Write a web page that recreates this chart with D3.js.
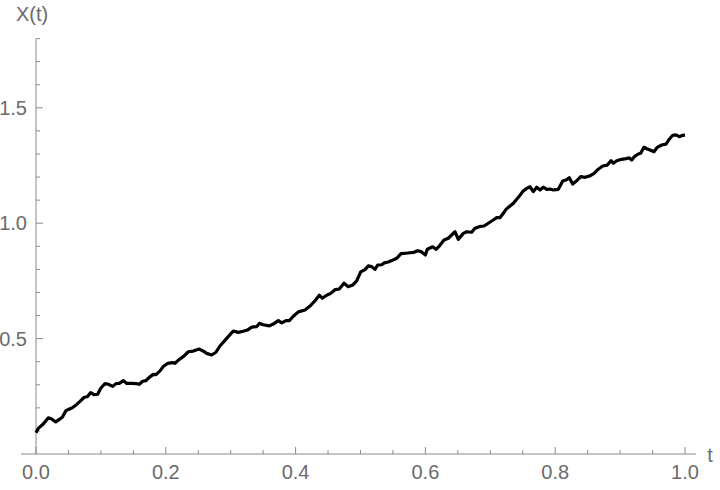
<!DOCTYPE html>
<html>
<head>
<meta charset="utf-8">
<script src="https://cdn.jsdelivr.net/npm/d3@7"></script>
<style>
  html, body { margin: 0; padding: 0; background: #fff; }
  svg text { font-family: 'Liberation Sans', Arial, sans-serif; fill: #6b6b6b; }
</style>
</head>
<body>
<div id="graph"></div>
<script>
// sample path
var tValues = [
  0, 0.0035, 0.0112, 0.019, 0.0242, 0.0304, 0.037, 0.0405, 0.0462, 0.0524,
  0.0565, 0.0627, 0.0678, 0.0744, 0.079, 0.0843, 0.0894, 0.0951, 0.0997, 0.1063,
  0.1114, 0.1182, 0.1233, 0.1284, 0.1345, 0.1398, 0.1475, 0.1541, 0.1592, 0.1644,
  0.1695, 0.1746, 0.1807, 0.1849, 0.1911, 0.1961, 0.2031, 0.21, 0.2142, 0.2208,
  0.227, 0.2347, 0.2424, 0.2512, 0.2578, 0.263, 0.2707, 0.2773, 0.2835, 0.2938,
  0.304, 0.3117, 0.3194, 0.3256, 0.3324, 0.3401, 0.3441, 0.3502, 0.3595, 0.3656,
  0.3733, 0.3786, 0.3852, 0.3903, 0.3965, 0.4042, 0.4145, 0.4222, 0.4299, 0.4365,
  0.4411, 0.4479, 0.4541, 0.4607, 0.4673, 0.4746, 0.4812, 0.488, 0.4941, 0.5003,
  0.5069, 0.512, 0.5173, 0.5223, 0.5265, 0.5327, 0.5367, 0.5428, 0.5481, 0.5558,
  0.5624, 0.5701, 0.5763, 0.5824, 0.5881, 0.5932, 0.6, 0.6029, 0.6112, 0.6163,
  0.6214, 0.6287, 0.6353, 0.6405, 0.6456, 0.6507, 0.6584, 0.6636, 0.6713, 0.6764,
  0.6831, 0.6903, 0.6969, 0.7046, 0.7099, 0.7149, 0.72, 0.7242, 0.7304, 0.7354,
  0.7407, 0.7458, 0.7508, 0.7561, 0.7612, 0.7663, 0.7715, 0.7766, 0.7817, 0.7869,
  0.792, 0.7971, 0.8048, 0.8116, 0.8166, 0.8217, 0.8269, 0.8331, 0.8393, 0.8459,
  0.8536, 0.8598, 0.8664, 0.8732, 0.8803, 0.886, 0.8895, 0.8948, 0.9025, 0.9091,
  0.9142, 0.9179, 0.923, 0.928, 0.9317, 0.9368, 0.941, 0.9461, 0.9522, 0.9573,
  0.9641, 0.9707, 0.9758, 0.9811, 0.9861, 0.9912, 0.9965, 1.0
]
var xValues = [
  0.092, 0.111, 0.13, 0.157, 0.152, 0.139, 0.152, 0.159, 0.188, 0.196,
  0.201, 0.215, 0.228, 0.246, 0.248, 0.266, 0.257, 0.259, 0.285, 0.305,
  0.302, 0.293, 0.305, 0.306, 0.318, 0.306, 0.306, 0.305, 0.302, 0.315,
  0.318, 0.332, 0.345, 0.344, 0.36, 0.379, 0.393, 0.396, 0.393, 0.41,
  0.422, 0.443, 0.446, 0.455, 0.446, 0.436, 0.429, 0.441, 0.468, 0.501,
  0.533, 0.527, 0.532, 0.537, 0.55, 0.552, 0.566, 0.56, 0.555, 0.563,
  0.578, 0.568, 0.578, 0.578, 0.597, 0.616, 0.624, 0.641, 0.664, 0.688,
  0.675, 0.688, 0.696, 0.712, 0.715, 0.74, 0.725, 0.732, 0.75, 0.789,
  0.799, 0.815, 0.812, 0.8, 0.819, 0.82, 0.828, 0.832, 0.838, 0.848,
  0.868, 0.87, 0.872, 0.874, 0.881, 0.877, 0.862, 0.887, 0.898, 0.887,
  0.901, 0.927, 0.935, 0.949, 0.963, 0.93, 0.956, 0.963, 0.961, 0.978,
  0.985, 0.988, 1.0, 1.014, 1.024, 1.024, 1.043, 1.06, 1.075, 1.086,
  1.104, 1.121, 1.14, 1.151, 1.158, 1.137, 1.156, 1.144, 1.156, 1.147,
  1.148, 1.144, 1.147, 1.183, 1.187, 1.197, 1.17, 1.184, 1.202, 1.199,
  1.205, 1.216, 1.234, 1.248, 1.252, 1.271, 1.26, 1.271, 1.277, 1.28,
  1.283, 1.274, 1.291, 1.3, 1.303, 1.329, 1.323, 1.317, 1.31, 1.329,
  1.339, 1.343, 1.364, 1.381, 1.383, 1.375, 1.381, 1.382
]

var xMajorTicks = [0, 0.2, 0.4, 0.6, 0.8, 1.0]
var xMinorTicks = [0.05, 0.1, 0.15, 0.25, 0.3, 0.35, 0.45, 0.5, 0.55, 0.65, 0.7, 0.75, 0.85, 0.9, 0.95]
var yMajorTicks = [0.5, 1.0, 1.5]
var yMinorTicks = [0.1, 0.2, 0.3, 0.4, 0.6, 0.7, 0.8, 0.9, 1.1, 1.2, 1.3, 1.4, 1.6, 1.7, 1.8]

var width = 720
var height = 490
var axisColor = '#8a8a8a'

var svg = d3
  .select('#graph')
  .append('svg')
  .attr('width', width)
  .attr('height', height)

var x = d3.scaleLinear().domain([0, 1]).range([36, 685])
var y = d3.scaleLinear().domain([0, 1.8]).range([454, 38.6])

// axes lines (Mathematica style, crossing at origin)
svg
  .append('line')
  .attr('x1', x(-0.023))
  .attr('x2', x(1.017))
  .attr('y1', y(0))
  .attr('y2', y(0))
  .style('stroke', axisColor)
  .style('stroke-width', 1)

svg
  .append('line')
  .attr('x1', x(0))
  .attr('x2', x(0))
  .attr('y1', y(0))
  .attr('y2', y(1.8))
  .style('stroke', axisColor)
  .style('stroke-width', 1)

// x ticks
svg
  .selectAll('.xmaj')
  .data(xMajorTicks)
  .enter()
  .append('line')
  .attr('x1', function(d) { return x(d) })
  .attr('x2', function(d) { return x(d) })
  .attr('y1', y(0))
  .attr('y2', y(0) - 7)
  .style('stroke', axisColor)

svg
  .selectAll('.xmin')
  .data(xMinorTicks)
  .enter()
  .append('line')
  .attr('x1', function(d) { return x(d) })
  .attr('x2', function(d) { return x(d) })
  .attr('y1', y(0))
  .attr('y2', y(0) - 4)
  .style('stroke', axisColor)

svg
  .selectAll('.xlab')
  .data(xMajorTicks)
  .enter()
  .append('text')
  .attr('x', function(d) { return x(d) })
  .attr('y', 479)
  .attr('text-anchor', 'middle')
  .style('font-size', '20px')
  .text(function(d) { return d.toFixed(1) })

// y ticks
svg
  .selectAll('.ymaj')
  .data(yMajorTicks)
  .enter()
  .append('line')
  .attr('x1', x(0))
  .attr('x2', x(0) + 7)
  .attr('y1', function(d) { return y(d) })
  .attr('y2', function(d) { return y(d) })
  .style('stroke', axisColor)

svg
  .selectAll('.ymin')
  .data(yMinorTicks)
  .enter()
  .append('line')
  .attr('x1', x(0))
  .attr('x2', x(0) + 4)
  .attr('y1', function(d) { return y(d) })
  .attr('y2', function(d) { return y(d) })
  .style('stroke', axisColor)

svg
  .selectAll('.ylab')
  .data(yMajorTicks)
  .enter()
  .append('text')
  .attr('x', 27)
  .attr('y', function(d) { return y(d) })
  .attr('dy', '0.35em')
  .attr('text-anchor', 'end')
  .style('font-size', '20px')
  .text(function(d) { return d.toFixed(1) })

// axis labels
svg
  .append('text')
  .attr('x', 32)
  .attr('y', 21)
  .attr('text-anchor', 'middle')
  .style('font-size', '20px')
  .text('X(t)')

svg
  .append('text')
  .attr('x', 710)
  .attr('y', 462)
  .attr('text-anchor', 'middle')
  .style('font-size', '20px')
  .text('t')

// the path
var points = tValues.map(function(t, i) {
  return { t: t, v: xValues[i] }
})

var line = d3
  .line()
  .x(function(d) { return x(d.t) })
  .y(function(d) { return y(d.v) })

svg
  .append('path')
  .datum(points)
  .attr('d', line)
  .style('fill', 'none')
  .style('stroke', '#000')
  .style('stroke-width', 3.2)
  .style('stroke-linejoin', 'round')
  .style('stroke-linecap', 'butt')
</script>
</body>
</html>
